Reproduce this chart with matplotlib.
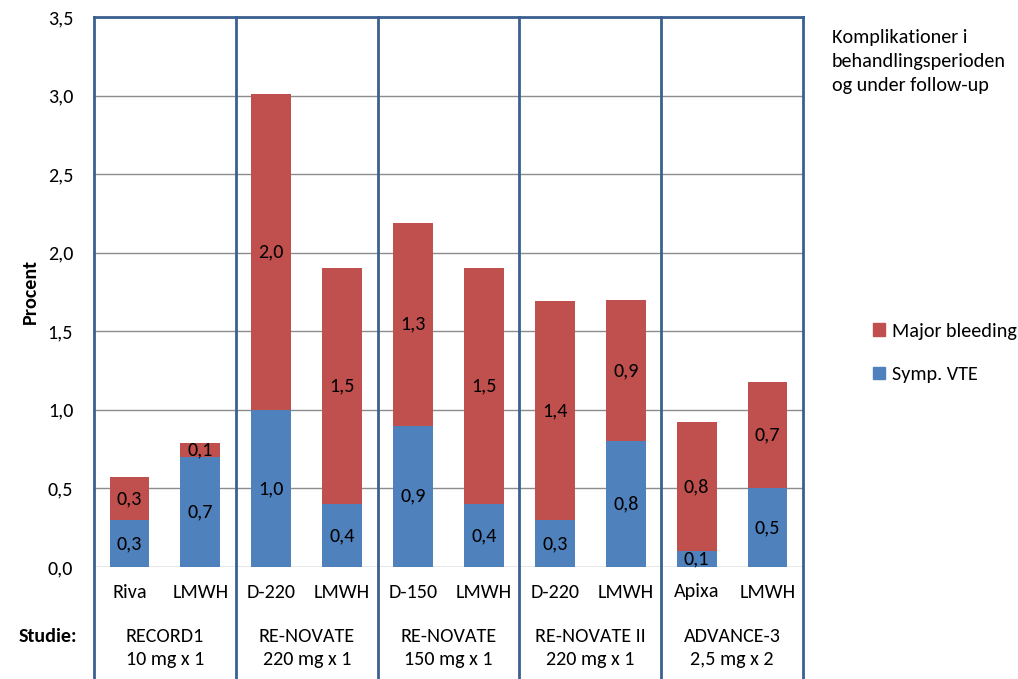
import matplotlib.pyplot as plt
import matplotlib.transforms as mtransforms
from matplotlib.patches import Patch
import numpy as np

plt.rcParams['font.family'] = ['Carlito', 'Open Sans', 'DejaVu Sans']
plt.rcParams['font.size'] = 14.5

# data
bars = ['Riva', 'LMWH', 'D-220', 'LMWH', 'D-150', 'LMWH', 'D-220', 'LMWH', 'Apixa', 'LMWH']
vte = [0.3, 0.7, 1.0, 0.4, 0.9, 0.4, 0.3, 0.8, 0.1, 0.5]
bleeding = [0.27, 0.09, 2.01, 1.5, 1.29, 1.5, 1.39, 0.9, 0.82, 0.68]
studies = ['RECORD1\n10 mg x 1', 'RE-NOVATE\n220 mg x 1', 'RE-NOVATE\n150 mg x 1',
           'RE-NOVATE II\n220 mg x 1', 'ADVANCE-3\n2,5 mg x 2']

blue = '#4F81BD'
red = '#C0504D'
frame = '#3A6091'

fig = plt.figure(figsize=(10.18, 6.79), dpi=100)
ax = fig.add_axes([94/1018, 1-567/679, 709/1018, 550/679])

x = np.arange(len(bars))
ax.bar(x, vte, width=0.56, color=blue, zorder=3)
ax.bar(x, bleeding, width=0.56, bottom=vte, color=red, zorder=3)

# value labels in the middle of each segment
for i in range(len(bars)):
    ax.text(x[i], vte[i]/2, f'{vte[i]:.1f}'.replace('.', ','), ha='center', va='center', zorder=4)
    ax.text(x[i], vte[i] + bleeding[i]/2, f'{bleeding[i]:.1f}'.replace('.', ','),
            ha='center', va='center', zorder=4)

ax.set_xlim(-0.5, len(bars) - 0.5)
ax.set_ylim(0, 3.5)
ax.set_yticks(np.arange(0, 3.51, 0.5))
ax.set_yticklabels([f'{v:.1f}'.replace('.', ',') for v in np.arange(0, 3.51, 0.5)])
ax.set_xticks([])
ax.tick_params(axis='y', length=0, pad=15)
ax.yaxis.grid(True, color='#8C8C8C', linewidth=1, zorder=0)
fig.text(30/1018, 1-292/679, 'Procent', rotation=90, ha='center', va='center',
         fontweight='bold')

for s in ['left', 'right', 'bottom']:
    ax.spines[s].set_visible(False)
ax.spines['top'].set_color(frame)
ax.spines['top'].set_linewidth(2)

# group separators, running down through the label area
trans = mtransforms.blended_transform_factory(ax.transData, ax.transAxes)
low = -112/550
for xs in np.arange(-0.5, len(bars), 2):
    ax.plot([xs, xs], [low, 1], color=frame, lw=2, transform=trans, clip_on=False, zorder=5)

# bar labels and study names
for i, b in enumerate(bars):
    ax.text(x[i], -25/550, b, ha='center', va='center', transform=trans)
for j, st in enumerate(studies):
    ax.text(2*j + 0.5, -81/550, st, ha='center', va='center', transform=trans,
            linespacing=1.4)
fig.text(77/1018, 1-636/679, 'Studie:', ha='right', va='center', fontweight='bold')

# legend
fig.text(832/1018, 1-62/679, 'Komplikationer i\nbehandlingsperioden\nog under follow-up',
         ha='left', va='center', linespacing=1.5)
handles = [Patch(color=red, label='Major bleeding'), Patch(color=blue, label='Symp. VTE')]
fig.legend(handles=handles, loc='center left', bbox_to_anchor=(855/1018, 1-353/679),
           frameon=False, handlelength=0.6, handleheight=0.6, handletextpad=0.35,
           labelspacing=1.3)

fig.savefig('out.png', dpi=100)
